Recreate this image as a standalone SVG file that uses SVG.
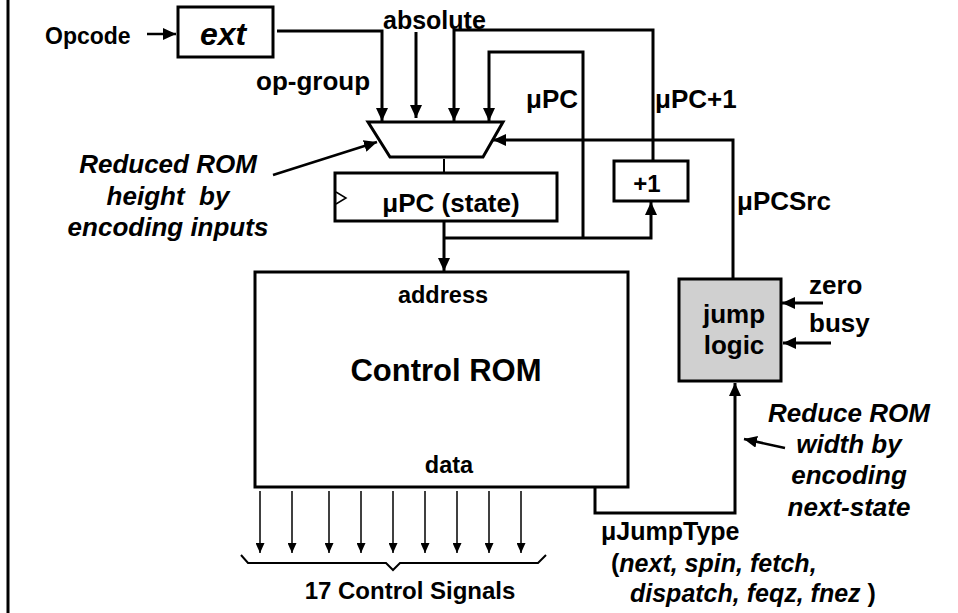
<svg xmlns="http://www.w3.org/2000/svg" width="958" height="613" viewBox="0 0 958 613">
<defs>
<marker id="ah" markerUnits="userSpaceOnUse" markerWidth="14" markerHeight="12" refX="13" refY="6" orient="auto"><path d="M0,0 L13,6 L0,12 z" fill="#000"/></marker>
<marker id="ahs" markerUnits="userSpaceOnUse" markerWidth="10" markerHeight="9" refX="10" refY="4.5" orient="auto"><path d="M0,0 L10,4.5 L0,9 z" fill="#000"/></marker>
<style>
.w{fill:none;stroke:#000;stroke-width:3}
.t{fill:none;stroke:#000;stroke-width:1.5}
.box{fill:#fff;stroke:#000;stroke-width:3}
text{font-family:"Liberation Sans",Arial,sans-serif;font-weight:bold;fill:#000}
.i{font-style:italic}
.m{text-anchor:middle}
</style>
</defs>
<rect width="958" height="613" fill="#fff"/>
<line x1="8" y1="0" x2="8" y2="613" stroke="#000" stroke-width="3"/>

<g id="connectors">
<line class="w" x1="147" y1="34" x2="176" y2="34" marker-end="url(#ah)" style="stroke-width:2.5"/>
<path class="w" d="M277,31 H382 V121" marker-end="url(#ah)"/>
<line class="w" x1="416" y1="32" x2="416" y2="118" marker-end="url(#ah)"/>
<path class="w" d="M653,161 V30 H454 V121" marker-end="url(#ah)"/>
<path class="w" d="M583,238 V52 H489 V121" marker-end="url(#ah)"/>
<path class="w" d="M733,279 V140 H493" marker-end="url(#ah)"/>
<line class="w" x1="273" y1="175" x2="377" y2="142" marker-end="url(#ah)" style="stroke-width:2.5"/>
<line x1="444" y1="159" x2="444" y2="172" stroke="#000" stroke-width="2"/>
<line class="w" x1="444" y1="222" x2="444" y2="271" marker-end="url(#ah)"/>
<path class="w" d="M444,238 H651 V202" marker-end="url(#ah)"/>
<path class="w" d="M595,487 V513 H735 V383" marker-end="url(#ah)"/>
<line class="w" x1="823" y1="303" x2="782" y2="303" marker-end="url(#ah)"/>
<line class="w" x1="831" y1="343" x2="783" y2="343" marker-end="url(#ah)"/>
<line class="w" x1="785" y1="448" x2="744" y2="439" marker-end="url(#ah)" style="stroke-width:2.5"/>
<g class="t">
<line x1="260" y1="491" x2="260" y2="553" marker-end="url(#ahs)"/>
<line x1="292" y1="491" x2="292" y2="553" marker-end="url(#ahs)"/>
<line x1="329" y1="491" x2="329" y2="553" marker-end="url(#ahs)"/>
<line x1="361" y1="491" x2="361" y2="553" marker-end="url(#ahs)"/>
<line x1="393" y1="491" x2="393" y2="553" marker-end="url(#ahs)"/>
<line x1="425" y1="491" x2="425" y2="553" marker-end="url(#ahs)"/>
<line x1="457" y1="491" x2="457" y2="553" marker-end="url(#ahs)"/>
<line x1="489" y1="491" x2="489" y2="553" marker-end="url(#ahs)"/>
<line x1="521" y1="491" x2="521" y2="553" marker-end="url(#ahs)"/>
</g>
<path class="w" style="stroke-width:2" d="M241,555 L248,563 H386 L393,570 L400,563 H538 L546,555"/>
</g>

<g id="ext">
<rect class="box" x="178" y="7" width="95" height="50"/>
<text class="i m" x="223" y="45" font-size="32">ext</text>
</g>
<text x="45" y="44" font-size="23">Opcode</text>
<text x="256" y="90" font-size="26">op-group</text>
<text x="383" y="29" font-size="25">absolute</text>
<text x="526" y="108" font-size="26">μPC</text>
<text x="655" y="108" font-size="26">μPC+1</text>
<text x="737" y="210" font-size="26">μPCSrc</text>

<g id="mux">
<polygon points="368,122 503,122 483,157 390,157" fill="#fff" stroke="#000" stroke-width="3"/>
</g>

<g id="upc">
<rect class="box" x="335" y="173" width="222" height="48"/>
<polyline points="336,192 346,198 336,204" fill="none" stroke="#000" stroke-width="1.5"/>
<text class="m" x="451" y="212" font-size="26">μPC (state)</text>
</g>

<g id="plus1">
<rect class="box" x="614" y="161" width="74" height="40"/>
<text class="m" x="647" y="192" font-size="24">+1</text>
</g>

<g id="rom">
<rect class="box" x="255" y="272" width="373" height="215"/>
<text class="m" x="443" y="303" font-size="23.5">address</text>
<text class="m" x="446" y="381" font-size="31">Control ROM</text>
<text class="m" x="449" y="473" font-size="23.5">data</text>
</g>

<g id="jump">
<rect x="679" y="279" width="102" height="102" fill="#d0d0d0" stroke="#000" stroke-width="3"/>
<text class="m" x="734" y="323" font-size="26">jump</text>
<text class="m" x="734" y="354" font-size="26">logic</text>
</g>
<text x="809" y="294" font-size="26">zero</text>
<text x="809" y="332" font-size="26">busy</text>

<g id="note-left" class="i m" font-size="26" style="white-space:pre">
<text class="i m" x="168" y="173" font-size="26">Reduced ROM</text>
<text class="i m" x="168" y="205" font-size="26" style="white-space:pre">height  by</text>
<text class="i m" x="168" y="236" font-size="26">encoding inputs</text>
</g>

<g id="note-right">
<text class="i m" x="849" y="422" font-size="26">Reduce ROM</text>
<text class="i m" x="849" y="453" font-size="26">width by</text>
<text class="i m" x="849" y="484" font-size="26">encoding</text>
<text class="i m" x="849" y="516" font-size="26">next-state</text>
</g>

<g id="jumptype">
<text x="601" y="540" font-size="25">μJumpType</text>
<text x="611" y="572" font-size="25">(<tspan font-style="italic">next, spin, fetch,</tspan></text>
<text x="630" y="602" font-size="25"><tspan font-style="italic">dispatch, feqz, fnez</tspan> )</text>
</g>

<text class="m" x="410" y="599" font-size="24">17 Control Signals</text>
</svg>
